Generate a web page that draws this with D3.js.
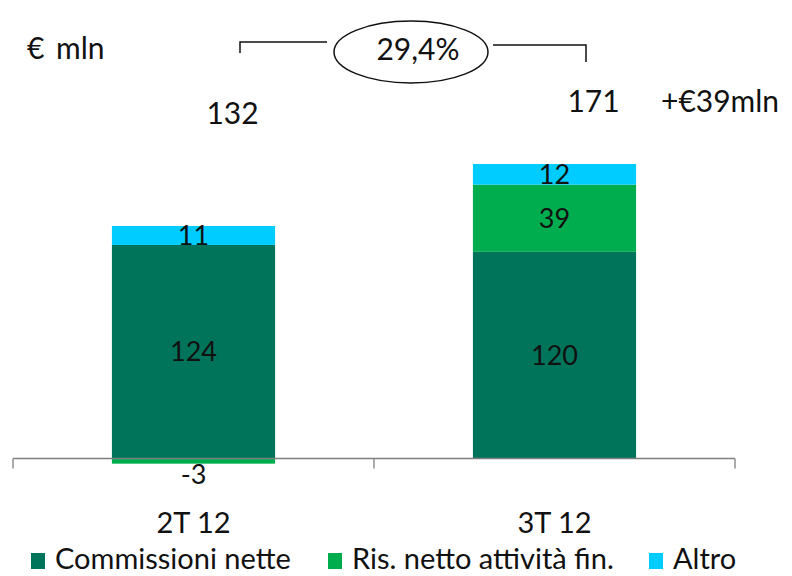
<!DOCTYPE html>
<html>
<head>
<meta charset="utf-8">
<script src="https://cdn.jsdelivr.net/npm/d3@7"></script>
<style>
  html, body { margin: 0; padding: 0; background: #fff; }
  svg { display: block; font-family: Lato, "Open Sans", sans-serif; }
</style>
</head>
<body>
<svg id="chart" width="792" height="576"></svg>
<script>
// Quarterly revenue breakdown, € mln
const categories = ["2T 12", "3T 12"];
const commissioni = [124, 120];
const risNetto = [-3, 39];
const altro = [11, 12];
const totals = [132, 171];
const seriesNames = ["Commissioni nette", "Ris. netto attività fin.", "Altro"];
const seriesColors = ["#00745A", "#00AD4E", "#00CCFF"];
const growthLabel = "29,4%";
const deltaLabel = "+€39mln";
const unitLabel = "€ mln";

const svg = d3.select("#chart");

const rows = categories.map((c, i) => ({
  cat: c, commissioni: commissioni[i], ris: risNetto[i], altro: altro[i]
}));
const keys = ["commissioni", "ris", "altro"];
const stack = d3.stack().keys(keys).offset(d3.stackOffsetDiverging)(rows);

const x = d3.scaleBand().domain(categories).range([13, 735]).padding(0);
const barW = x.bandwidth() * 0.452;
const y = d3.scaleLinear().domain([0, d3.max(totals)]).range([458.5, 164]);

const color = d3.scaleOrdinal().domain(keys).range(seriesColors);

// stacked bars
const layers = svg.append("g").selectAll("g").data(stack).join("g")
  .attr("fill", d => color(d.key));
layers.selectAll("rect").data(d => d.map(p => ({ p, key: d.key }))).join("rect")
  .attr("x", d => x(d.p.data.cat) + x.bandwidth() / 2 - barW / 2)
  .attr("width", barW)
  .attr("y", d => y(Math.max(d.p[0], d.p[1])))
  .attr("height", d => Math.abs(y(d.p[0]) - y(d.p[1])));

// category axis
const axis = svg.append("g").attr("transform", `translate(0,${y(0)})`)
  .call(d3.axisBottom(x).tickSize(0).tickFormat(""));
axis.select(".domain").attr("stroke", "#7f7f7f").attr("stroke-width", 1.3)
  .attr("d", `M${x.range()[0]},0H${x.range()[1]}`);
const edges = [x.range()[0], ...categories.slice(1).map(c => x(c)), x.range()[1]];
axis.selectAll(".edge").data(edges).join("line").attr("class", "edge")
  .attr("x1", d => d).attr("x2", d => d).attr("y1", 0).attr("y2", 10)
  .attr("stroke", "#7f7f7f").attr("stroke-width", 1.3);

svg.append("g").selectAll("text").data(categories).join("text")
  .attr("x", d => x(d) + x.bandwidth() / 2)
  .attr("y", 533)
  .attr("text-anchor", "middle")
  .attr("font-size", 29)
  .attr("fill", "#111")
  .text(d => d);

// segment value labels (negative values sit just below their segment)
const labels = [];
stack.forEach(layer => layer.forEach(p => {
  const v = p.data[layer.key];
  const cx = x(p.data.cat) + x.bandwidth() / 2;
  const cy = v < 0 ? y(p[0]) + 11 : y((p[0] + p[1]) / 2);
  labels.push({ v, x: cx, y: cy });
}));
svg.append("g").selectAll("text").data(labels).join("text")
  .attr("x", d => d.x)
  .attr("y", d => d.y + 9.5)
  .attr("text-anchor", "middle")
  .attr("font-size", 27)
  .attr("fill", "#111")
  .text(d => d.v);

// totals above bars
const totalPos = [
  { x: x(categories[0]) + x.bandwidth() / 2 + 39, y: 124 },
  { x: x(categories[1]) + x.bandwidth() / 2 + 39, y: 112 }
];
svg.append("g").selectAll("text").data(totals).join("text")
  .attr("x", (d, i) => totalPos[i].x)
  .attr("y", (d, i) => totalPos[i].y)
  .attr("text-anchor", "middle")
  .attr("font-size", 30)
  .attr("fill", "#111")
  .text(d => d);

svg.append("text").attr("x", 661).attr("y", 112)
  .attr("font-size", 30).attr("fill", "#111").text(deltaLabel);

svg.append("text").attr("x", 27).attr("y", 59)
  .attr("font-size", 30).attr("fill", "#111")
  .attr("word-spacing", 4).text(unitLabel);

// growth bracket with ellipse
const bracket = svg.append("g").attr("fill", "none").attr("stroke", "#111").attr("stroke-width", 1.5);
bracket.append("path").attr("d", "M240,53V42H327");
bracket.append("path").attr("d", "M493,45H586V62");
bracket.append("ellipse").attr("cx", 411).attr("cy", 52).attr("rx", 77).attr("ry", 31);
svg.append("text").attr("x", 418).attr("y", 60)
  .attr("text-anchor", "middle")
  .attr("font-size", 30).attr("fill", "#111").text(growthLabel);

// legend
const legend = svg.append("g");
const legendX = [31, 328, 649];
seriesNames.forEach((name, i) => {
  legend.append("rect").attr("x", legendX[i]).attr("y", 553).attr("width", 14).attr("height", 16)
    .attr("fill", seriesColors[i]);
  legend.append("text").attr("x", legendX[i] + 24).attr("y", 569)
    .attr("font-size", 29).attr("fill", "#111").text(name);
});
</script>
</body>
</html>
